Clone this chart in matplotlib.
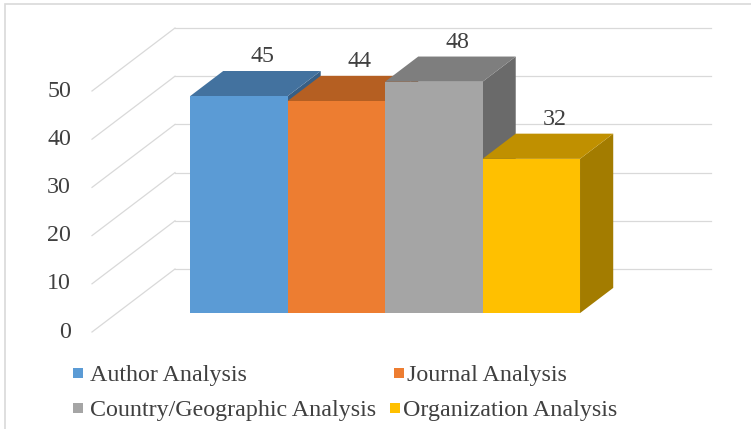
import matplotlib
matplotlib.use("Agg")
import matplotlib.pyplot as plt
from matplotlib.patches import Polygon, Rectangle

# ---- data ----
categories = ["Author Analysis", "Journal Analysis",
              "Country/Geographic Analysis", "Organization Analysis"]
values = [45, 44, 48, 32]
tick_values = [0, 10, 20, 30, 40, 50]

front_colors = ["#5B9BD5", "#ED7D31", "#A5A5A5", "#FFC000"]
top_colors = ["#43729F", "#B55F22", "#7E7E7E", "#C09000"]
side_colors = ["#385F85", "#9A511D", "#6A6A6A", "#A37C00"]

TEXT = "#404040"
GRID = "#D9D9D9"
FONT = "Liberation Serif"
FS = 17.3

W, H = 751, 429
fig = plt.figure(figsize=(W / 100, H / 100), dpi=100)
ax = fig.add_axes([0, 0, 1, 1])

# pixel geometry of the 3-D box
ORIG_X, ORIG_Y = 92.0, 332.0      # front-left corner of the floor
PX_BAR = 97.5                     # pixels per bar width
PX_UNIT = 4.82                    # pixels per value unit
DX = 83.0 / PX_BAR                # full depth, horizontal shift (data units)
DY = 63.0 / PX_UNIT               # full depth, vertical shift (data units)
FLOOR_W = 5.5                     # floor width in bar units
D0, D1 = 0.3, 0.7                 # depth range occupied by the columns

ax.set_xlim(-ORIG_X / PX_BAR, (W - ORIG_X) / PX_BAR)
ax.set_ylim((ORIG_Y - H) / PX_UNIT, ORIG_Y / PX_UNIT)
ax.axis("off")

# walls: side-wall diagonals and back-wall gridlines
for v in tick_values:
    ax.plot([0, DX], [v, v + DY], color=GRID, lw=0.9, zorder=1)
    ax.plot([DX, DX + FLOOR_W], [v + DY, v + DY], color=GRID, lw=0.9, zorder=1)
    ax.text(-0.215, v, str(v), ha="right", va="center", fontsize=FS,
            family=FONT, color=TEXT)

# columns, drawn left to right so nearer faces cover hidden ones
for k, (v, fc, tc, sc) in enumerate(zip(values, front_colors, top_colors, side_colors)):
    x0 = 0.75 + k
    fx, fy = x0 + D0 * DX, D0 * DY
    bx, by = x0 + D1 * DX, D1 * DY
    side = [(fx + 1, fy), (bx + 1, by), (bx + 1, by + v), (fx + 1, fy + v)]
    top = [(fx, fy + v), (fx + 1, fy + v), (bx + 1, by + v), (bx, by + v)]
    ax.add_patch(Polygon(side, closed=True, facecolor=sc, edgecolor="none", zorder=2 + k))
    ax.add_patch(Polygon(top, closed=True, facecolor=tc, edgecolor="none", zorder=2 + k))
    ax.add_patch(Rectangle((fx, fy), 1, v, facecolor=fc, edgecolor="none", zorder=2 + k))
    ax.annotate(str(v), xy=(x0 + 0.5 + 0.58 * DX, v + 0.58 * DY),
                xytext=(0, 15.8), textcoords="offset points",
                ha="center", va="center", fontsize=FS, family=FONT,
                color=TEXT, zorder=10)

# legend
legend_rows = [(373, 0), (373, 1), (408, 2), (408, 3)]
marker_x = [73, 394, 73, 390]
text_x = [90, 407, 90, 403]
for (yc, i), mx, tx in zip(legend_rows, marker_x, text_x):
    fig.add_artist(Rectangle((mx / W, 1 - (yc + 5) / H), 10 / W, 10 / H,
                             transform=fig.transFigure,
                             facecolor=front_colors[i], edgecolor="none"))
    fig.text(tx / W, 1 - yc / H, categories[i], ha="left", va="center_baseline",
             fontsize=FS, family=FONT, color=TEXT)

# chart-area border
fig.add_artist(Rectangle((5 / W, -0.1), 1.2, 1 - 4 / H + 0.1,
                         transform=fig.transFigure, facecolor="none",
                         edgecolor=GRID, lw=1.2))

fig.savefig("out.png", dpi=100)
